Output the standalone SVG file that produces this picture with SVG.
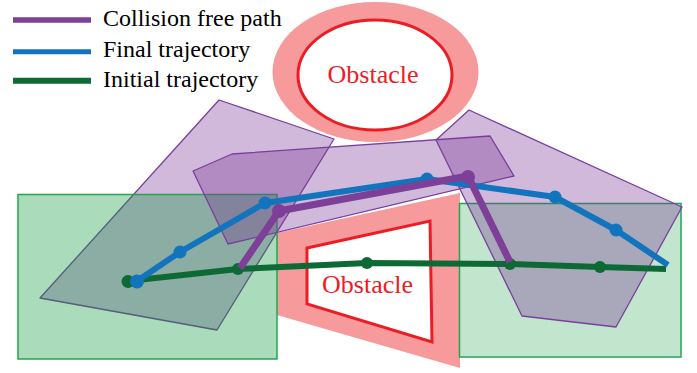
<svg xmlns="http://www.w3.org/2000/svg" width="697" height="373" viewBox="0 0 697 373">
<style>
.pink{fill:#f69a9c;stroke:none}
.inner{fill:#ffffff;stroke:#ed1c24;stroke-width:3}
.obs{font-family:"Liberation Serif","Times New Roman",serif;font-size:26px;fill:#ed1c24;text-anchor:middle}
.leg{font-family:"Liberation Serif","Times New Roman",serif;font-size:24px;fill:#000}
.poly{fill:#773794;fill-opacity:0.35;stroke:#7a3f9e;stroke-width:1.3;stroke-linejoin:round}
.grnL{fill:#0c983d;fill-opacity:0.35;stroke:#23a552;stroke-width:1.5}
.grnR{fill:#0c983d;fill-opacity:0.25;stroke:#23a552;stroke-width:1.5}
.tg{fill:none;stroke:#0d6a35;stroke-width:6;stroke-linejoin:round}
.tb{fill:none;stroke:#1374be;stroke-width:6;stroke-linejoin:round}
.tp{fill:none;stroke:#7d3f98;stroke-width:7;stroke-linejoin:round}
.dg{fill:#0d6a35}
.db{fill:#1374be}
.dp{fill:#7d3f98}
</style>
<rect width="697" height="373" fill="#ffffff"/>
<g id="obstacle-top">
<ellipse class="pink" cx="375.5" cy="72" rx="103" ry="70"/>
<ellipse class="inner" cx="375" cy="75" rx="77" ry="55"/>
<text class="obs" x="373" y="83">Obstacle</text>
</g>
<g id="obstacle-bottom">
<polygon class="pink" points="277,233 460,193 460,368 277,315"/>
<polygon class="inner" points="307,248 430,221 432,342 307,304"/>
<text class="obs" x="367.5" y="293">Obstacle</text>
</g>
<g id="region-right">
<rect class="grnR" x="459.5" y="203.5" width="221.5" height="153.5"/>
</g>
<g id="cell-left">
<polygon class="poly" points="219,100 334,139 217,330 40,298"/>
</g>
<g id="region-left">
<rect class="grnL" x="18" y="194.5" width="259" height="164.5"/>
</g>
<g id="cell-middle">
<polygon class="poly" points="193,171 232,154 490,136 514,176 228,244"/>
</g>
<g id="cell-right">
<polygon class="poly" points="469,110 682,207 616,327 522,316 436,140"/>
</g>
<g id="connectors">
<polyline class="tg" points="128,281 238,269 367,263 511,264 600,267 666,269"/>
<circle class="dg" cx="128" cy="281.5" r="6.5"/>
<circle class="dg" cx="238" cy="269" r="6"/>
<circle class="dg" cx="367" cy="263" r="6"/>
<circle class="dg" cx="510" cy="264" r="6"/>
<circle class="dg" cx="600" cy="267" r="6"/>
<polyline class="tb" points="137,281 180,252 265,203 427,179 555,197 616,230 668,265"/>
<circle class="db" cx="137" cy="281.5" r="7"/>
<circle class="db" cx="180" cy="252" r="6.5"/>
<circle class="db" cx="265" cy="203" r="6.5"/>
<circle class="db" cx="427" cy="179" r="6.5"/>
<circle class="db" cx="555" cy="197" r="6.5"/>
<circle class="db" cx="616" cy="230" r="6.5"/>
<polyline class="tp" points="240,268 279,211 468,176 510,262"/>
<circle class="dp" cx="279" cy="211" r="7"/>
<circle class="dp" cx="468" cy="177" r="7"/>
</g>
<g id="legend">
<line x1="13" y1="20" x2="91" y2="20" stroke="#7d3f98" stroke-width="5.5"/>
<line x1="13" y1="51.7" x2="91" y2="51.7" stroke="#1374be" stroke-width="5"/>
<line x1="13" y1="80.7" x2="91" y2="80.7" stroke="#0d6a35" stroke-width="6"/>
<text class="leg" x="103" y="26">Collision free path</text>
<text class="leg" x="103" y="56.5">Final trajectory</text>
<text class="leg" x="103" y="87">Initial trajectory</text>
</g>
</svg>
